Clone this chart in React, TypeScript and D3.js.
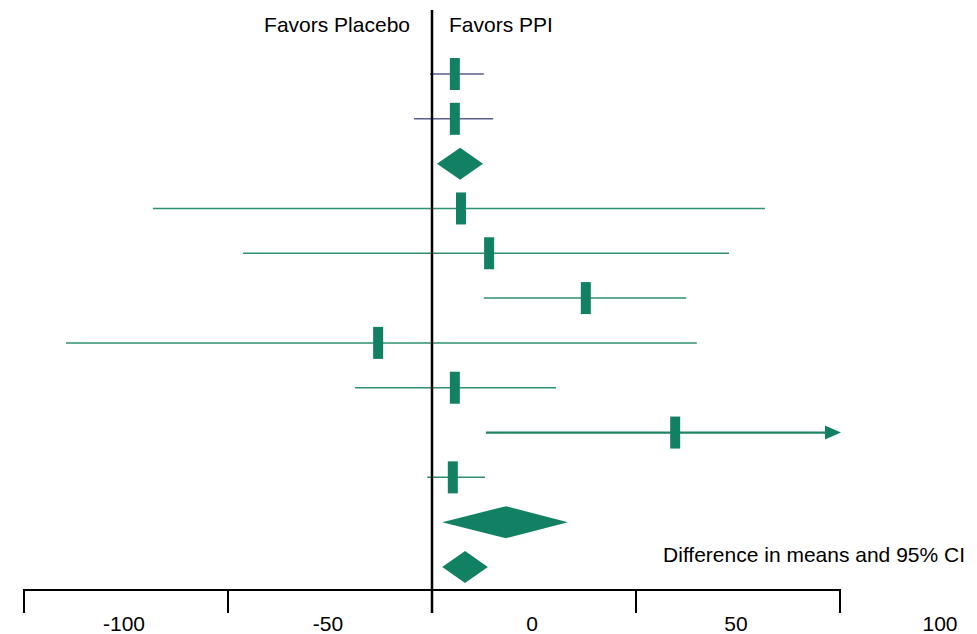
import React from 'react';
import * as d3 from 'd3';

// kind: 'study' = box + CI line, 'pooled' = diamond
const rowKinds = ['study', 'study', 'pooled', 'study', 'study', 'study', 'study', 'study', 'study', 'study', 'pooled', 'pooled'];
const estimates = [5.6, 5.6, 6.9, 7.1, 14.0, 37.7, -13.2, 5.6, 59.6, 5.1, 18.1, 8.1];
const lowers = [-0.5, -4.4, 1.2, -68.4, -46.3, 12.7, -89.7, -18.9, 13.2, -1.2, 2.5, 2.5];
const uppers = [12.7, 15.0, 12.5, 81.6, 72.8, 62.3, 64.9, 30.4, 130, 13.0, 33.3, 13.7];
const lineColors = ['#5a5e8c', '#5a5e8c', '', '#2f9071', '#2f9071', '#2f9071', '#2f9071', '#2f9071', '#1f8466', '#2f9071', '', ''];
const tickValues = [-100, -50, 0, 50, 100];

const W = 977;
const H = 634;
const green = '#128163';
const font = '"Liberation Sans", Arial, sans-serif';

export default function App() {
  const x = d3.scaleLinear().domain([-100, 100]).range([24, 840]);
  const y = d3.scalePoint<number>().domain(d3.range(estimates.length)).range([74, 567]);
  const axisY = 590;
  const labelShift = 100;

  return (
    <svg width={W} height={H} style={{ position: 'absolute', left: 0, top: 0, background: '#fff' }}>
      {estimates.map((est, i) => {
        const cy = y(i) as number;
        const lo = x(lowers[i]);
        const hiVal = Math.min(uppers[i], 100);
        const hi = x(hiVal);
        const arrow = uppers[i] > 100;
        if (rowKinds[i] === 'pooled') {
          const cx = x(est);
          return (
            <path key={i} fill={green}
              d={`M${lo},${cy} L${cx},${cy - 16} L${hi},${cy} L${cx},${cy + 16} Z`} />
          );
        }
        return (
          <g key={i}>
            <line x1={lo} x2={arrow ? hi - 12 : hi} y1={cy} y2={cy}
              stroke={lineColors[i]} strokeWidth={arrow ? 2.2 : 1.5} />
            {arrow && (
              <path fill={green} d={`M${hi - 15},${cy - 7} L${hi + 1},${cy} L${hi - 15},${cy + 7} Z`} />
            )}
            <rect x={x(est) - 5} y={cy - 16} width={10} height={32} fill={green} />
          </g>
        );
      })}

      {/* zero line */}
      <line x1={x(0)} x2={x(0)} y1={10} y2={axisY + 23} stroke="#000" strokeWidth={2.5} />

      {/* axis */}
      <line x1={x(-100) - 1} x2={x(100) + 1} y1={axisY} y2={axisY} stroke="#000" strokeWidth={2} />
      {tickValues.map(v => (
        <g key={v}>
          <line x1={x(v)} x2={x(v)} y1={axisY} y2={axisY + 23} stroke="#000" strokeWidth={2} />
          <text x={x(v) + labelShift} y={axisY + 41} textAnchor="middle" fontFamily={font} fontSize={21} fill="#000">
            {v}
          </text>
        </g>
      ))}

      <text x={410} y={32} textAnchor="end" fontFamily={font} fontSize={21} fill="#000">Favors Placebo</text>
      <text x={449} y={32} fontFamily={font} fontSize={21} fill="#000">Favors PPI</text>
      <text x={965} y={562} textAnchor="end" fontFamily={font} fontSize={21} fill="#000">Difference in means and 95% CI</text>
    </svg>
  );
}
